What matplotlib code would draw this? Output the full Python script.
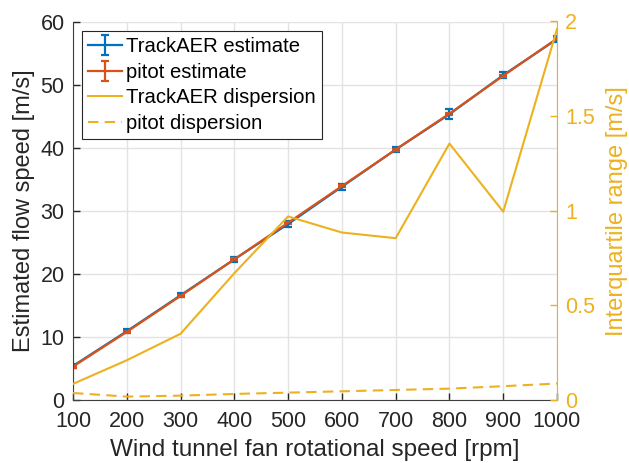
import matplotlib
matplotlib.use("Agg")
import matplotlib.pyplot as plt
import numpy as np

rpm = [100, 200, 300, 400, 500, 600, 700, 800, 900, 1000]
trackaer_est = [5.4, 10.9, 16.6, 22.3, 27.9, 33.8, 39.7, 45.3, 51.5, 57.2]
trackaer_err = [0.35, 0.35, 0.35, 0.4, 0.5, 0.45, 0.4, 0.8, 0.5, 0.5]
pitot_est = [5.3, 10.8, 16.5, 22.3, 28.1, 33.9, 39.7, 45.4, 51.4, 57.3]
pitot_err = [0.15, 0.15, 0.15, 0.15, 0.15, 0.15, 0.15, 0.15, 0.15, 0.15]
trackaer_disp = [0.085, 0.21, 0.35, 0.67, 0.97, 0.885, 0.855, 1.355, 0.995, 1.96]
pitot_disp = [0.037, 0.018, 0.023, 0.032, 0.039, 0.046, 0.053, 0.060, 0.073, 0.087]

blue = "#0072BD"
red = "#D95319"
yellow = "#EDB120"

plt.rcParams['font.family'] = ['Liberation Sans', 'DejaVu Sans']

fig = plt.figure(figsize=(6.29, 4.63), dpi=100)
ax = fig.add_axes([73/629, 1 - 400/463, (557-73)/629, (400-21.5)/463])
ax2 = ax.twinx()

h1 = ax.errorbar(rpm, trackaer_est, yerr=trackaer_err, color=blue, lw=1.6,
                 capsize=3, capthick=1.6, elinewidth=1.6, label="TrackAER estimate")
h2 = ax.errorbar(rpm, pitot_est, yerr=pitot_err, color=red, lw=1.6,
                 capsize=3, capthick=1.6, elinewidth=1.6, label="pitot estimate")
h3, = ax2.plot(rpm, trackaer_disp, color=yellow, lw=1.5, label="TrackAER dispersion")
h4, = ax2.plot(rpm, pitot_disp, color=yellow, lw=1.5, dashes=(5, 3), label="pitot dispersion")

ax.set_xlim(100, 1000)
ax.set_ylim(0, 60)
ax2.set_ylim(0, 2)
ax.set_xticks(rpm)
ax.set_yticks([0, 10, 20, 30, 40, 50, 60])
ax2.set_yticks([0, 0.5, 1, 1.5, 2])
ax2.set_yticklabels(["0", "0.5", "1", "1.5", "2"])

ax.grid(True, color="#e3e3e3", lw=1)
ax.set_axisbelow(True)

for a in (ax, ax2):
    a.spines['top'].set_visible(False)
ax.spines['right'].set_visible(False)
ax.spines['left'].set_color("#404040")
ax.spines['bottom'].set_color("#404040")
ax2.spines['left'].set_visible(False)
ax2.spines['bottom'].set_visible(False)
ax2.spines['right'].set_color(yellow)

ax.tick_params(direction='in', length=5, labelsize=15.5, colors="#262626", width=1)
ax.tick_params(axis='x', pad=8)
ax.tick_params(axis='y', pad=6)
ax2.tick_params(direction='in', length=5, labelsize=15.5, colors=yellow, width=1, pad=6)

ax.set_xlabel("Wind tunnel fan rotational speed [rpm]", fontsize=17.5, color="#262626", labelpad=5)
ax.set_ylabel("Estimated flow speed [m/s]", fontsize=17, color="#262626", labelpad=4)
ax2.set_ylabel("Interquartile range [m/s]", fontsize=17, color=yellow, labelpad=7.5)

leg = ax2.legend([h1, h2, h3, h4],
                 ["TrackAER estimate", "pitot estimate", "TrackAER dispersion", "pitot dispersion"],
                 loc="upper left", bbox_to_anchor=(0.018, 0.975), fontsize=14.6,
                 frameon=True, fancybox=False, edgecolor="#262626", framealpha=1,
                 borderpad=0.3, labelspacing=0.33, handlelength=1.7, handletextpad=0.2,
                 borderaxespad=0)
leg.get_frame().set_linewidth(0.8)

fig.savefig("out.png", dpi=100)
